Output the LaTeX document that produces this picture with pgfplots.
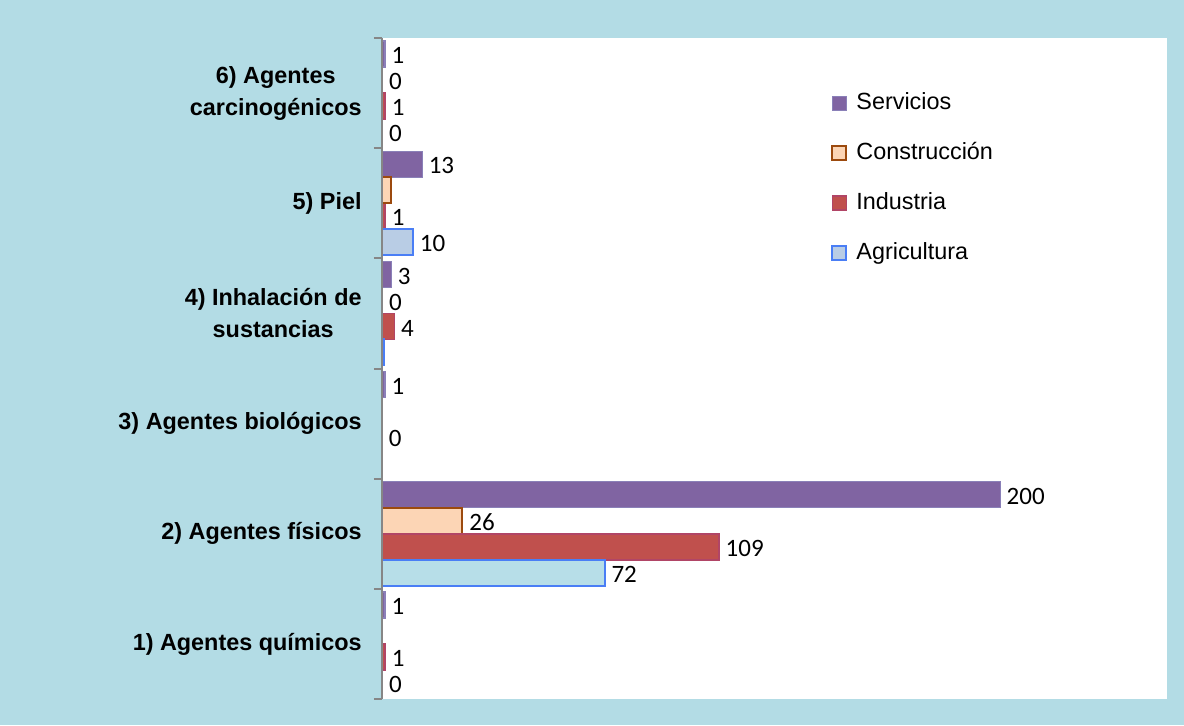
\documentclass[border=0pt]{standalone}
\usepackage{pgfplots}
\pgfplotsset{compat=1.18}
\usepackage{fontspec}
\setmainfont{Liberation Sans}
\newfontfamily\carlito{Carlito}

\definecolor{bgblue}{HTML}{B3DCE5}
\definecolor{axisgray}{HTML}{868686}
\definecolor{servfill}{HTML}{8064A2}
\definecolor{servdraw}{HTML}{8A80B8}
\definecolor{consfill}{HTML}{FCD5B5}
\definecolor{consdraw}{HTML}{9C4A0E}
\definecolor{indfill}{HTML}{C0504D}
\definecolor{inddraw}{HTML}{B14566}
\definecolor{agrfill}{HTML}{B9CDE5}
\definecolor{agrfillb}{HTML}{B7DEE8}
\definecolor{agrdraw}{HTML}{4A7EF5}

\pgfplotsset{
  lbl/.style={
    point meta=x,
    nodes near coords,
    nodes near coords style={font=\carlito\fontsize{12.5}{14}\selectfont,
      anchor=west, inner sep=3pt, text=black, yshift=-0.8pt,
      /pgf/number format/assume math mode=true},
  },
}

\begin{document}
\begin{tikzpicture}
\fill[bgblue] (0,0) rectangle (592pt,362.5pt);
\begin{axis}[
  at={(191pt,13pt)}, anchor=south west,
  scale only axis, width=392.5pt, height=330.5pt,
  xbar, bar width=13pt,
  xmin=0, xmax=254, ymin=0.5, ymax=6.5,
  axis x line=none, axis y line*=left,
  axis line style={draw=axisgray, line width=1pt, -},
  axis background/.style={fill=white},
  axis on top,
  ytick={1,...,6},
  yticklabels={1) Agentes químicos, 2) Agentes físicos, 3) Agentes biológicos,
    4) Inhalación de\\sustancias, 5) Piel, 6) Agentes\\carcinogénicos},
  major tick length=0pt,
  extra y ticks={0.5,1.5,2.5,3.5,4.5,5.5,6.5},
  extra y tick labels={},
  extra y tick style={major tick length=4pt, tick align=outside,
    major tick style={draw=axisgray, line width=1pt}},
  yticklabel style={font=\bfseries\fontsize{11.7}{16}\selectfont,
    inner sep=0pt, xshift=-10pt, align=center},
  legend image code/.code={\draw[#1] (0pt,-3.5pt) rectangle (7pt,3.5pt);},
  legend cell align=left,
  legend style={draw=none, fill=none, at={(0.572,0.92)}, anchor=north west,
    font=\fontsize{11.7}{14}\selectfont, row sep=13pt, inner sep=0pt,
    nodes={text height=9pt, text depth=3pt, inner sep=0pt},
    /tikz/every odd column/.append style={column sep=4.5pt}},
]
% Servicios
\addplot[lbl, bar shift=19.5pt, fill=servfill, draw=servdraw, line width=0.6pt]
  coordinates {(1,1) (200,2) (1,3) (3,4) (13,5) (1,6)};
% Construcción
\addplot[lbl, bar shift=6.5pt, fill=consfill, draw=consdraw, line width=1pt]
  coordinates {(26,2) (0,4) (0,6)};
% Industria
\addplot[lbl, bar shift=-6.5pt, fill=indfill, draw=inddraw, line width=0.8pt]
  coordinates {(1,1) (109,2) (0,3) (4,4) (1,5) (1,6)};
% Agricultura
\addplot[lbl, bar shift=-19.5pt, fill=agrfill, draw=agrdraw, line width=1pt]
  coordinates {(0,1) (10,5) (0,6)};
\legend{Servicios, Construcción, Industria, Agricultura}
% bars without a data label
\addplot[forget plot, bar shift=6.5pt, fill=consfill, draw=consdraw, line width=1pt]
  coordinates {(3,5)};
\addplot[forget plot, bar shift=-19.5pt, fill=agrfill, draw=agrdraw, line width=1pt]
  coordinates {(0.6,4)};
% Agricultura, 2) Agentes físicos
\addplot[forget plot, lbl, bar shift=-19.5pt, fill=agrfillb, draw=agrdraw, line width=1pt]
  coordinates {(72,2)};
\end{axis}
\end{tikzpicture}
\end{document}
